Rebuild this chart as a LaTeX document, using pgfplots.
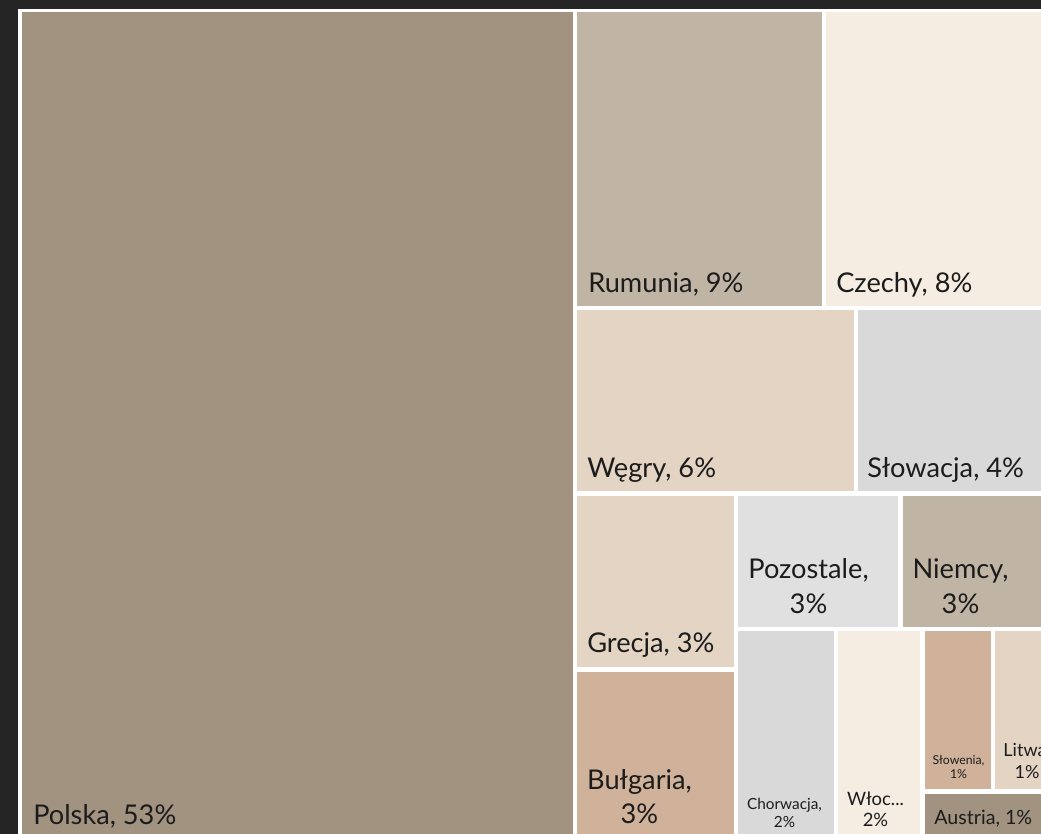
\documentclass[border=0pt]{standalone}
\usepackage{pgfplots}
\pgfplotsset{compat=1.18}
\usepackage{fontspec}
\setmainfont{Lato}
\definecolor{bgdark}{HTML}{252525}
\definecolor{cA}{HTML}{A29380}
\definecolor{cB}{HTML}{C0B4A5}
\definecolor{cC}{HTML}{F5EDE2}
\definecolor{cD}{HTML}{E3D4C4}
\definecolor{cE}{HTML}{D9D9D9}
\definecolor{cF}{HTML}{E0E0E0}
\definecolor{cG}{HTML}{CFB299}
\definecolor{txt}{HTML}{1C1C1C}
\newcommand{\fs}[1]{\fontsize{#1}{#1}\selectfont}
\begin{document}
\begin{tikzpicture}
\useasboundingbox (0,0) rectangle (780.75pt,625.5pt);
\clip (0,0) rectangle (780.75pt,625.5pt);
\begin{axis}[at={(0,0)}, anchor=south west, scale only axis,
  width=780.75pt, height=625.5pt,
  xmin=0, xmax=1041, ymin=0, ymax=834, y dir=reverse,
  axis lines=none, ticks=none, clip=false,
  every axis plot/.append style={mark=none, draw=none}]
% background and frame
\addplot[fill=bgdark] coordinates {(-10,-10) (1060,-10) (1060,850) (-10,850)} -- cycle;
\addplot[fill=white] coordinates {(18,9) (1060,9) (1060,850) (18,850)} -- cycle;
% tiles (x0,y0)-(x1,y1) in pixel units
\addplot[fill=cA] coordinates {(21.5,12.3) (572.7,12.3) (572.7,850) (21.5,850)} -- cycle; % Polska
\addplot[fill=cB] coordinates {(577,12.3) (822,12.3) (822,305.7) (577,305.7)} -- cycle; % Rumunia
\addplot[fill=cC] coordinates {(826,12.3) (1060,12.3) (1060,305.7) (826,305.7)} -- cycle; % Czechy
\addplot[fill=cD] coordinates {(577,310) (854,310) (854,491) (577,491)} -- cycle; % Wegry
\addplot[fill=cE] coordinates {(858,310) (1060,310) (1060,491) (858,491)} -- cycle; % Slowacja
\addplot[fill=cD] coordinates {(577,496) (734,496) (734,666.7) (577,666.7)} -- cycle; % Grecja
\addplot[fill=cF] coordinates {(738,496) (898,496) (898,626.7) (738,626.7)} -- cycle; % Pozostale
\addplot[fill=cB] coordinates {(903,496) (1060,496) (1060,626.7) (903,626.7)} -- cycle; % Niemcy
\addplot[fill=cG] coordinates {(577,671.7) (734,671.7) (734,850) (577,850)} -- cycle; % Bulgaria
\addplot[fill=cE] coordinates {(738,631) (834,631) (834,850) (738,850)} -- cycle; % Chorwacja
\addplot[fill=cC] coordinates {(838,631) (920,631) (920,850) (838,850)} -- cycle; % Wlochy
\addplot[fill=cG] coordinates {(924.7,631) (991,631) (991,789) (924.7,789)} -- cycle; % Slowenia
\addplot[fill=cD] coordinates {(995,631) (1060,631) (1060,789) (995,789)} -- cycle; % Litwa
\addplot[fill=cA] coordinates {(924.7,794) (1060,794) (1060,850) (924.7,850)} -- cycle; % Austria
% labels
\begin{scope}[every node/.style={inner sep=0pt, text=txt}]
\node[anchor=base west, font=\fs{20.4}] at (axis cs:33,824) {Polska, 53\%};
\node[anchor=base west, font=\fs{20.4}] at (axis cs:588,292) {Rumunia, 9\%};
\node[anchor=base west, font=\fs{20.4}] at (axis cs:836,292) {Czechy, 8\%};
\node[anchor=base west, font=\fs{20.4}] at (axis cs:587,477) {Węgry, 6\%};
\node[anchor=base west, font=\fs{20.4}] at (axis cs:867,477) {Słowacja, 4\%};
\node[anchor=base, font=\fs{20.4}] at (axis cs:808.5,578) {Pozostale,};
\node[anchor=base, font=\fs{20.4}] at (axis cs:808.5,613) {3\%};
\node[anchor=base, font=\fs{20.4}] at (axis cs:960.5,578) {Niemcy,};
\node[anchor=base, font=\fs{20.4}] at (axis cs:960.5,613) {3\%};
\node[anchor=base west, font=\fs{20.4}] at (axis cs:587,652) {Grecja, 3\%};
\node[anchor=base, font=\fs{20.4}] at (axis cs:639.5,789.5) {Bułgaria,};
\node[anchor=base, font=\fs{20.4}] at (axis cs:639.5,823) {3\%};
\node[anchor=base, font=\fs{11.5}] at (axis cs:784.5,809) {Chorwacja,};
\node[anchor=base, font=\fs{11.5}] at (axis cs:784.5,827) {2\%};
\node[anchor=base, font=\fs{13.8}] at (axis cs:875.5,805) {Włoc...};
\node[anchor=base, font=\fs{13.8}] at (axis cs:875.5,826) {2\%};
\node[anchor=base, font=\fs{9.2}] at (axis cs:958.5,764) {Słowenia,};
\node[anchor=base, font=\fs{9.2}] at (axis cs:958.5,778) {1\%};
\node[anchor=base, font=\fs{13.5}] at (axis cs:1027,756) {Litwa,};
\node[anchor=base, font=\fs{13.5}] at (axis cs:1027,778) {1\%};
\node[anchor=base west, font=\fs{14.75}] at (axis cs:934,824) {Austria, 1\%};
\end{scope}
\end{axis}
\end{tikzpicture}
\end{document}
